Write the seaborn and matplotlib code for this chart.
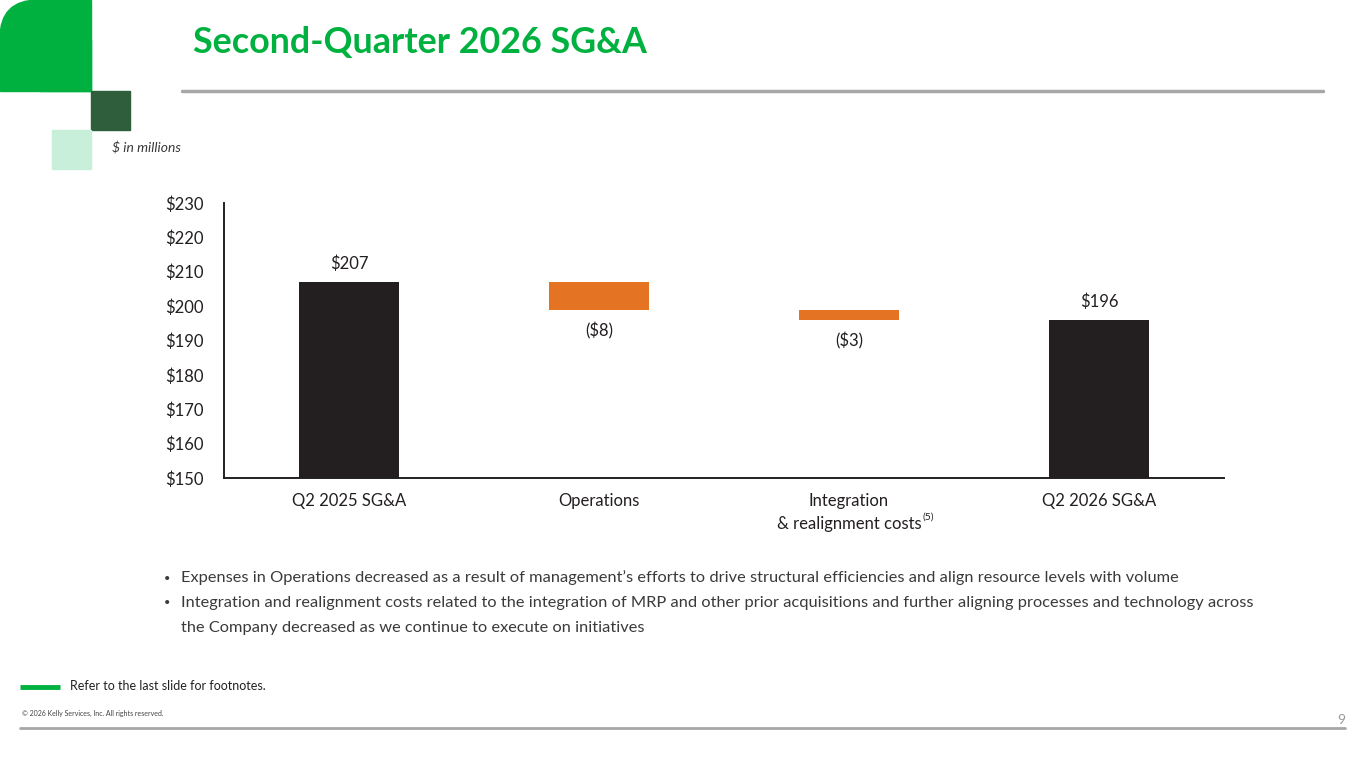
import matplotlib
matplotlib.use("Agg")
import matplotlib.pyplot as plt
from matplotlib.patches import FancyBboxPatch, Rectangle
from matplotlib.lines import Line2D
from matplotlib.ticker import FixedLocator
import seaborn as sns
import pandas as pd
import numpy as np

# ---- data ----
categories = ["Q2 2025 SG&A", "Operations", "Integration\n& realignment costs", "Q2 2026 SG&A"]
start_value = 207
changes = [-8, -3]
end_value = 196
bar_labels = ["$207", "($8)", "($3)", "$196"]
y_ticks = [150, 160, 170, 180, 190, 200, 210, 220, 230]
y_tick_labels = ["$150", "$160", "$170", "$180", "$190", "$200", "$210", "$220", "$230"]
bullets = [
    "Expenses in Operations decreased as a result of management’s efforts to drive structural efficiencies and align resource levels with volume",
    "Integration and realignment costs related to the integration of MRP and other prior acquisitions and further aligning processes and technology across\nthe Company decreased as we continue to execute on initiatives",
]

# ---- waterfall geometry from data ----
running = [start_value]
for c in changes:
    running.append(running[-1] + c)
heights = [start_value] + [abs(c) for c in changes] + [end_value]
bottoms = [0] + [running[i + 1] for i in range(len(changes))] + [0]
tops = [b + h for b, h in zip(bottoms, heights)]
kinds = ["total"] + ["delta"] * len(changes) + ["total"]

df = pd.DataFrame({"category": categories, "height": heights, "bottom": bottoms})

sns.set_theme(style="white")
plt.rcParams["font.family"] = ["Lato", "DejaVu Sans"]
plt.rcParams["text.parse_math"] = False

BLACK = "#231f20"
ORANGE = "#e57324"
GREEN = "#00b140"
DKGREEN = "#2e5e3b"
LTGREEN = "#c8efd9"
TXT = "#3a3a3a"

fig = plt.figure(figsize=(13.65, 7.68), dpi=100)
W, H = 1365, 768

def fx(px):
    return px / W

def fy(py):
    return 1 - py / H

# decorations: green block with rounded top-left corner
fig.patches.append(FancyBboxPatch((fx(0), fy(91)), fx(91), fy(0) - fy(91),
                                  boxstyle="round,pad=0,rounding_size=0.028",
                                  transform=fig.transFigure, color=GREEN, mutation_aspect=W / H))
fig.patches.append(Rectangle((fx(0), fy(91)), fx(91), fy(40) - fy(91), transform=fig.transFigure, color=GREEN))
fig.patches.append(Rectangle((fx(40), fy(91)), fx(51), fy(0) - fy(91), transform=fig.transFigure, color=GREEN))
fig.patches.append(Rectangle((fx(91), fy(130)), fx(39), fy(91) - fy(130), transform=fig.transFigure, color=DKGREEN))
fig.patches.append(Rectangle((fx(52), fy(169)), fx(39), fy(130) - fy(169), transform=fig.transFigure, color=LTGREEN))

fig.text(fx(193), fy(43), "Second-Quarter 2026 SG&A", color=GREEN, fontsize=25.8, fontweight="bold",
         va="center", ha="left")
fig.add_artist(Line2D([fx(182), fx(1323)], [fy(91), fy(91)], color="#a8a6a7", lw=2.5,
                      transform=fig.transFigure))
fig.text(fx(112), fy(148), "$ in millions", fontsize=10, style="italic", color=TXT, va="center", ha="left")

# chart
ax = fig.add_axes([fx(224), fy(478), fx(1000), fy(203) - fy(478)])
sns.barplot(data=df, x="category", y="height", bottom=df["bottom"].values, width=0.4,
            color=BLACK, ax=ax, errorbar=None, saturation=1)
for p, k in zip(ax.patches, kinds):
    p.set_facecolor(BLACK if k == "total" else ORANGE)
    p.set_edgecolor("none")

ax.set_ylim(150, 230)
ax.set_xlim(-0.5, len(categories) - 0.5)
ax.yaxis.set_major_locator(FixedLocator(y_ticks))
ax.set_yticklabels(y_tick_labels)
ax.tick_params(axis="y", length=0, pad=15, labelsize=12, labelcolor=BLACK)
ax.tick_params(axis="x", which="major", length=0, pad=11, labelsize=12, labelcolor=BLACK)
ax.xaxis.set_minor_locator(FixedLocator(np.arange(-0.5, len(categories), 1.0)))
ax.tick_params(axis="x", which="minor", length=5, width=1.3, color=BLACK, direction="out")
ax.set_xlabel("")
ax.set_ylabel("")
for s in ["top", "right"]:
    ax.spines[s].set_visible(False)
for s in ["left", "bottom"]:
    ax.spines[s].set_color(BLACK)
    ax.spines[s].set_linewidth(1.4)
for lab in ax.get_xticklabels():
    lab.set_linespacing(1.5)

for i, (lbl, k) in enumerate(zip(bar_labels, kinds)):
    if k == "total":
        ax.annotate(lbl, (i, tops[i]), xytext=(0, 7), textcoords="offset points",
                    ha="center", va="bottom", fontsize=12, color=BLACK)
    else:
        ax.annotate(lbl, (i, bottoms[i]), xytext=(0, -9), textcoords="offset points",
                    ha="center", va="top", fontsize=12, color=BLACK)

fig.text(fx(922), fy(517), "(5)", fontsize=7.5, color=BLACK, ha="left", va="center")

# bullets
by = [578, 603]
for y, t in zip(by, bullets):
    fig.text(fx(164), fy(y), "•", fontsize=8, color=TXT, ha="left", va="center")
    fig.text(fx(181), fy(y), t.split("\n")[0], fontsize=11.8, color=TXT, ha="left", va="center")
    if "\n" in t:
        fig.text(fx(181), fy(y + 25), t.split("\n")[1], fontsize=11.8, color=TXT, ha="left", va="center")

# footer
fig.add_artist(Line2D([fx(20), fx(60)], [fy(687), fy(687)], color=GREEN, lw=3.5, transform=fig.transFigure,
                      solid_capstyle="butt"))
fig.text(fx(70), fy(686), "Refer to the last slide for footnotes.", fontsize=9, color="#222222",
         ha="left", va="center")
fig.text(fx(22), fy(713), "© 2026 Kelly Services, Inc. All rights reserved.", fontsize=5, color="#444444",
         ha="left", va="center")
fig.text(fx(1345), fy(720), "9", fontsize=10, color="#999999", ha="right", va="center")
fig.add_artist(Line2D([fx(20), fx(1345)], [fy(728), fy(728)], color="#a8a6a7", lw=2, transform=fig.transFigure))

fig.savefig("out.png", dpi=100)
